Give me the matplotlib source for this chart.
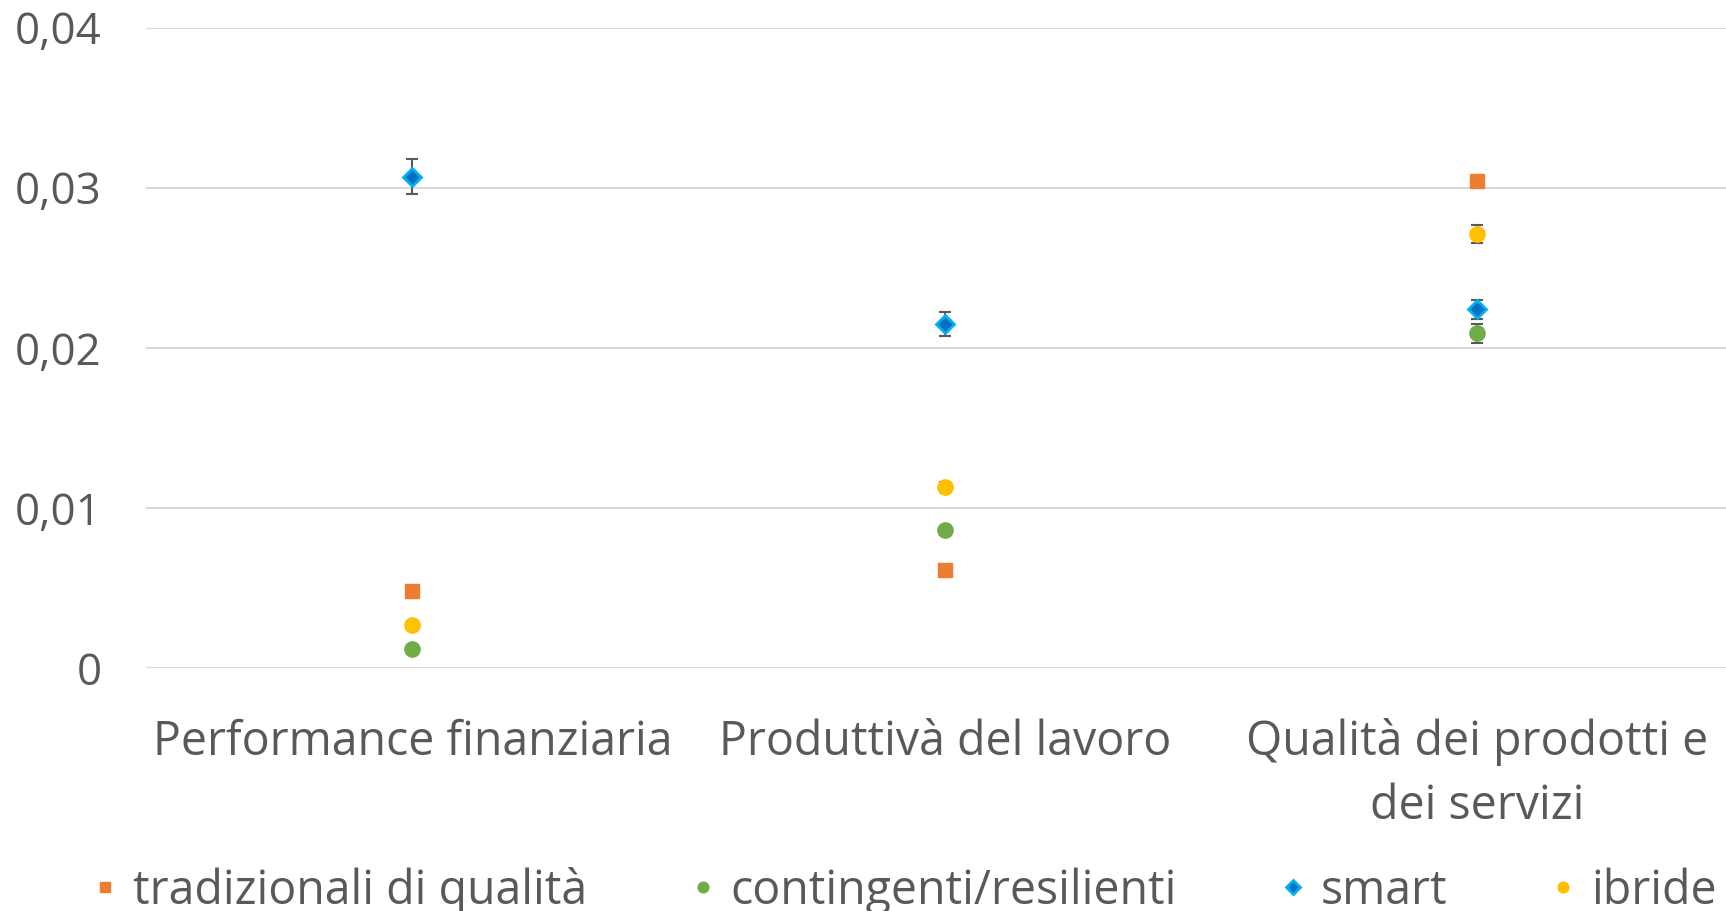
import matplotlib.pyplot as plt
import numpy as np
from matplotlib.ticker import FuncFormatter

plt.rcParams['font.family'] = ['Open Sans', 'DejaVu Sans']

# === DATA ===
categories = ["Performance finanziaria", "Produttivà del lavoro", "Qualità dei prodotti e\ndei servizi"]
series_names = ["tradizionali di qualità", "contingenti/resilienti", "smart", "ibride"]

tradizionali = [0.0048, 0.0061, 0.0304]
contingenti = [0.0012, 0.0086, 0.0209]
smart = [0.0307, 0.0215, 0.0224]
ibride = [0.0027, 0.0113, 0.0271]

err_tradizionali = [0.0001, 0.0001, 0.0001]
err_contingenti = [0.0001, 0.0003, 0.0006]
err_smart = [0.0011, 0.00075, 0.0006]
err_ibride = [0.0001, 0.0003, 0.00055]

y_ticks = [0, 0.01, 0.02, 0.03, 0.04]

# === STYLE ===
text_color = '#595959'
grid_color = '#D9D9D9'
styles = [
    dict(marker='s', color='#ED7D31', mec='#ED7D31', ms=10.5),
    dict(marker='o', color='#70AD47', mec='#70AD47', ms=11),
    dict(marker='D', color='#0070C0', mec='#00B0F0', ms=9.5, mew=2),
    dict(marker='o', color='#FFC000', mec='#FFC000', ms=11),
]

fig = plt.figure(figsize=(17.26, 9.11), dpi=100)
ax = fig.add_axes([0.0846, 0.2667, 0.9256, 0.703])

x = np.arange(len(categories)) + 0.5
values = [tradizionali, contingenti, smart, ibride]
errors = [err_tradizionali, err_contingenti, err_smart, err_ibride]

handles = []
for i, (vals, errs, st) in enumerate(zip(values, errors, styles)):
    ax.errorbar(x, vals, yerr=errs, fmt='none', ecolor=text_color, elinewidth=1.5,
                capsize=4.5, capthick=1.5, zorder=3 + 2 * i)
    h, = ax.plot(x, vals, linestyle='none', label=series_names[i], zorder=4 + 2 * i,
                 clip_on=False, **st)
    handles.append(h)

ax.set_xlim(0, 3)
ax.set_ylim(0, 0.04)
ax.set_yticks(y_ticks)
ax.yaxis.set_major_formatter(FuncFormatter(lambda v, p: '0' if v == 0 else f'{v:.2f}'.replace('.', ',')))
ax.set_xticks(x)
ax.set_xticklabels(categories)
ax.grid(axis='y', color=grid_color, linewidth=1.5)
ax.set_axisbelow(True)
for s in ax.spines.values():
    s.set_visible(False)
ax.tick_params(axis='both', length=0, colors=text_color)
ax.tick_params(axis='y', labelsize=31.5, pad=32)
ax.tick_params(axis='x', labelsize=33.5, pad=36)
for lbl in ax.get_xticklabels():
    lbl.set_linespacing(1.45)

fig.legend(handles=handles, loc='lower left', bbox_to_anchor=(0.0285, -0.05), ncol=4,
           frameon=False, fontsize=33.5, labelcolor=text_color, handlelength=0.6,
           handletextpad=0.3, columnspacing=2.19, markerscale=0.7)

fig.savefig('out.png', dpi=100)
